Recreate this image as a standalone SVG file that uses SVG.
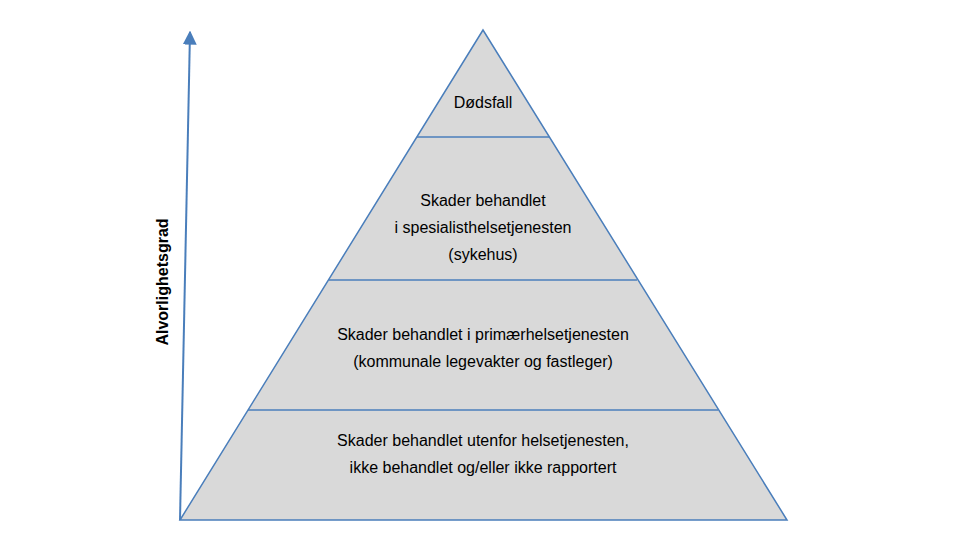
<svg xmlns="http://www.w3.org/2000/svg" width="970" height="541" viewBox="0 0 970 541">
<style>
.t{font-family:"Liberation Sans",Arial,sans-serif;font-size:16px;fill:#000;text-anchor:middle}
.sep{stroke:#4a7ebb;stroke-width:1.3;fill:none}
</style>
<defs><marker id="ah" viewBox="0 0 10 10" refX="9" refY="5" markerWidth="7" markerHeight="9" orient="auto"><path d="M0,0 L10,5 L0,10 z" fill="#4a7ebb"/></marker></defs>
<rect width="970" height="541" fill="#fff"/>
<g id="pyramid"><polygon points="483,30 180,520 787,520" fill="#d9d9d9" stroke="#4a7ebb" stroke-width="1.5"/></g>
<g id="connectors">
<line class="sep" x1="417" y1="137" x2="549" y2="137"/>
<line class="sep" x1="329" y1="280" x2="637" y2="280"/>
<line class="sep" x1="248" y1="410" x2="718" y2="410"/>
<line x1="180" y1="520" x2="190" y2="32" stroke="#4a7ebb" stroke-width="2" marker-end="url(#ah)"/>
</g>
<g id="n1"><text class="t" x="483" y="108">Dødsfall</text></g>
<g id="n2"><text class="t" x="483" y="206">Skader behandlet</text><text class="t" x="483" y="233">i spesialisthelsetjenesten</text><text class="t" x="483" y="260">(sykehus)</text></g>
<g id="n3"><text class="t" x="483" y="340">Skader behandlet i primærhelsetjenesten</text><text class="t" x="483" y="367">(kommunale legevakter og fastleger)</text></g>
<g id="n4"><text class="t" x="483" y="446">Skader behandlet utenfor helsetjenesten,</text><text class="t" x="483" y="473">ikke behandlet og/eller ikke rapportert</text></g>
<g id="axis-label"><text class="t" transform="translate(168,282) rotate(-90)" style="font-weight:bold">Alvorlighetsgrad</text></g>
</svg>
